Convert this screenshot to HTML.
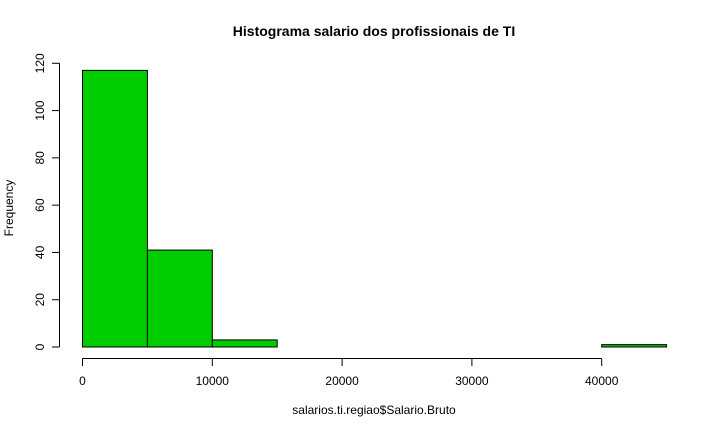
<!DOCTYPE html>
<html><head><meta charset="utf-8"><style>
html,body{margin:0;padding:0;background:#fff;}
svg{display:block;font-family:"Liberation Sans",Arial,sans-serif;}
</style></head><body>
<svg id="chart" width="720" height="432" viewBox="0 0 720 432" xmlns="http://www.w3.org/2000/svg">
<text x="374" y="36" text-anchor="middle" font-size="14" font-weight="bold">Histograma salario dos profissionais de TI</text>
<text x="374" y="414" text-anchor="middle" font-size="12">salarios.ti.regiao$Salario.Bruto</text>
<text transform="translate(13,208) rotate(-90)" text-anchor="middle" font-size="12">Frequency</text>
<g id="bars"></g>
<g id="xaxis"></g>
<g id="yaxis"></g>
</svg>
<script>
const breaks = [0,5000,10000,15000,20000,25000,30000,35000,40000,45000];
const counts = [117,41,3,0,0,0,0,0,1];
const xTicks = [0,10000,20000,30000,40000];
const yTicks = [0,20,40,60,80,100,120];
const NS = "http://www.w3.org/2000/svg";
function sx(v){ return 82.5 + (v/10000)*129.8; }
function sy(v){ return 347 - (v/120)*283.7; }
function mk(tag, attrs, parent){ const e=document.createElementNS(NS,tag); for(const k in attrs) e.setAttribute(k,attrs[k]); parent.appendChild(e); return e; }
const bars=document.getElementById('bars');
counts.forEach((c,i)=>{
  const x0=sx(breaks[i]), x1=sx(breaks[i+1]);
  const r=mk('rect',{x:x0,y:sy(c),width:x1-x0,height:sy(0)-sy(c),fill:'#00cd00',stroke:'#000','stroke-width':1},bars);
  
  
});
const xa=document.getElementById('xaxis');
mk('line',{x1:sx(xTicks[0]),x2:sx(xTicks[xTicks.length-1]),y1:358.5,y2:358.5,stroke:'#000'},xa);
xTicks.forEach(t=>{
  mk('line',{x1:sx(t),x2:sx(t),y1:358.5,y2:366,stroke:'#000'},xa);
  const tx=mk('text',{x:sx(t),y:385,'text-anchor':'middle','font-size':12},xa);
  tx.textContent=t;
  
  
});
const ya=document.getElementById('yaxis');
mk('line',{x1:59.5,x2:59.5,y1:sy(yTicks[0]),y2:sy(yTicks[yTicks.length-1]),stroke:'#000'},ya);
yTicks.forEach(t=>{
  mk('line',{x1:52,x2:59.5,y1:sy(t),y2:sy(t),stroke:'#000'},ya);
  const tx=mk('text',{transform:'translate(44,'+sy(t)+') rotate(-90)','text-anchor':'middle','font-size':12},ya);
  tx.textContent=t;
  
  
});
</script>
</body></html>
